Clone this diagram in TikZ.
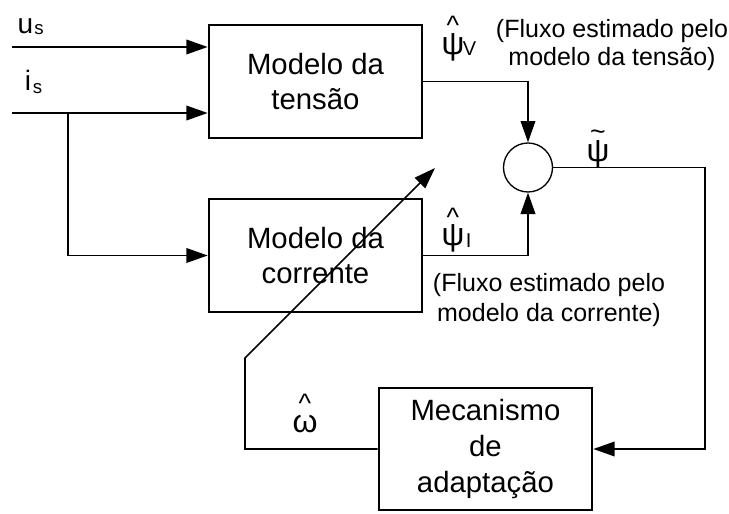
\documentclass[tikz,border=0pt]{standalone}
\usepackage{fontspec}
\setmainfont{Liberation Sans}
\usetikzlibrary{arrows.meta}
\newcommand{\mycaret}{\raisebox{-0.33em}[0.38em][0pt]{\textasciicircum}}
\newcommand{\mytilde}{\raisebox{-0.26em}[0.17em][0pt]{\textasciitilde}}
\newcommand{\mypsi}{\raisebox{0pt}[0.7em][0.2em]{ψ}}
\begin{document}
\begin{tikzpicture}[x=0.75pt,y=-0.75pt,
  blk/.style={draw,line width=2pt,minimum width=159.75pt,minimum height=84.75pt,
    align=center,inner sep=0pt,font=\fontsize{22}{26.5}\selectfont},
  sumc/.style={draw,circle,line width=1pt,minimum size=36.75pt,inner sep=0pt},
  arr/.style={line width=1.2pt,-{Triangle[length=16pt,width=11pt]}},
  sym/.style={inner sep=0pt,font=\fontsize{24}{26}\selectfont},
  acc/.style={inner sep=0pt,font=\fontsize{20}{22}\selectfont},
  sub/.style={inner sep=0pt,font=\fontsize{15}{17}\selectfont},
  ssub/.style={inner sep=0pt,font=\fontsize{14}{16}\selectfont},
  inp/.style={inner sep=0pt,font=\fontsize{21}{24}\selectfont},
  note/.style={inner sep=0pt,align=center,font=\fontsize{18.75}{20.5}\selectfont}]
\useasboundingbox (0,0) rectangle (729,514);

% blocks
\node[blk] (vm) at (315.5,81.5) {Modelo da\\tensão};
\node[blk] (cm) at (315.5,255.5) {Modelo da\\corrente};
\node[blk,minimum height=91.5pt,font=\fontsize{22}{27}\selectfont] (am) at (485.5,449) {Mecanismo\\de\\adaptação};
\node[sumc] (sum) at (528,167.5) {};

% inputs
\coordinate (us0) at (12,47);
\coordinate (is0) at (12,113);
\coordinate (br) at (68,113);
\draw[arr] (us0) -- (us0 -| vm.west);
\draw[arr] (is0) -- (is0 -| vm.west);
\draw[arr] (br) |- (cm.west);

% model outputs to summing junction
\draw[arr] (vm.east) -| (sum.north);
\draw[arr] (cm.east) -| (sum.south);

% error to adaptation
\coordinate (fr) at (705,167.5);
\draw[arr] (sum.east) -- (fr) |- (am.east);

% speed estimate feedback (adjustable arrow)
\coordinate (fl) at (245,449);
\coordinate (fb) at (245,358);
\coordinate (tip) at (435,168);
\draw[arr] (am.west) -- (fl) -- (fb) -- (tip);

% input labels
\node[inp] (u) at (25.5,26.5) {u};
\node[ssub,anchor=west] (us) at (34,29.5) {s};
\node[inp] (i) at (28,80) {i};
\node[ssub,anchor=west] (is) at (32.5,89) {s};

% psi_V hat
\node[sym] (psiv) at (453,47) {\mypsi};
\node[acc] (hatv) at (453,20.5) {\mycaret};
\node[sub,anchor=west] (subv) at (462.5,49) {V};

% psi_I hat
\node[sym] (psii) at (453,237) {\mypsi};
\node[acc] (hati) at (453,212.5) {\mycaret};
\node[sub,anchor=west] (subi) at (465.5,241) {I};

% psi tilde
\node[sym] (psit) at (598,153) {\mypsi};
\node[acc] (tilt) at (598,131) {\mytilde};

% omega hat
\node[sym] (om) at (305,424) {ω};
\node[acc] (hato) at (305,399) {\mycaret};

% notes
\node[note] (nv) at (612,45) {(Fluxo estimado pelo\\modelo da tensão)};
\node[note,font=\fontsize{18.75}{22.5}\selectfont] (ni) at (549,300) {(Fluxo estimado pelo\\modelo da corrente)};
\end{tikzpicture}
\end{document}
